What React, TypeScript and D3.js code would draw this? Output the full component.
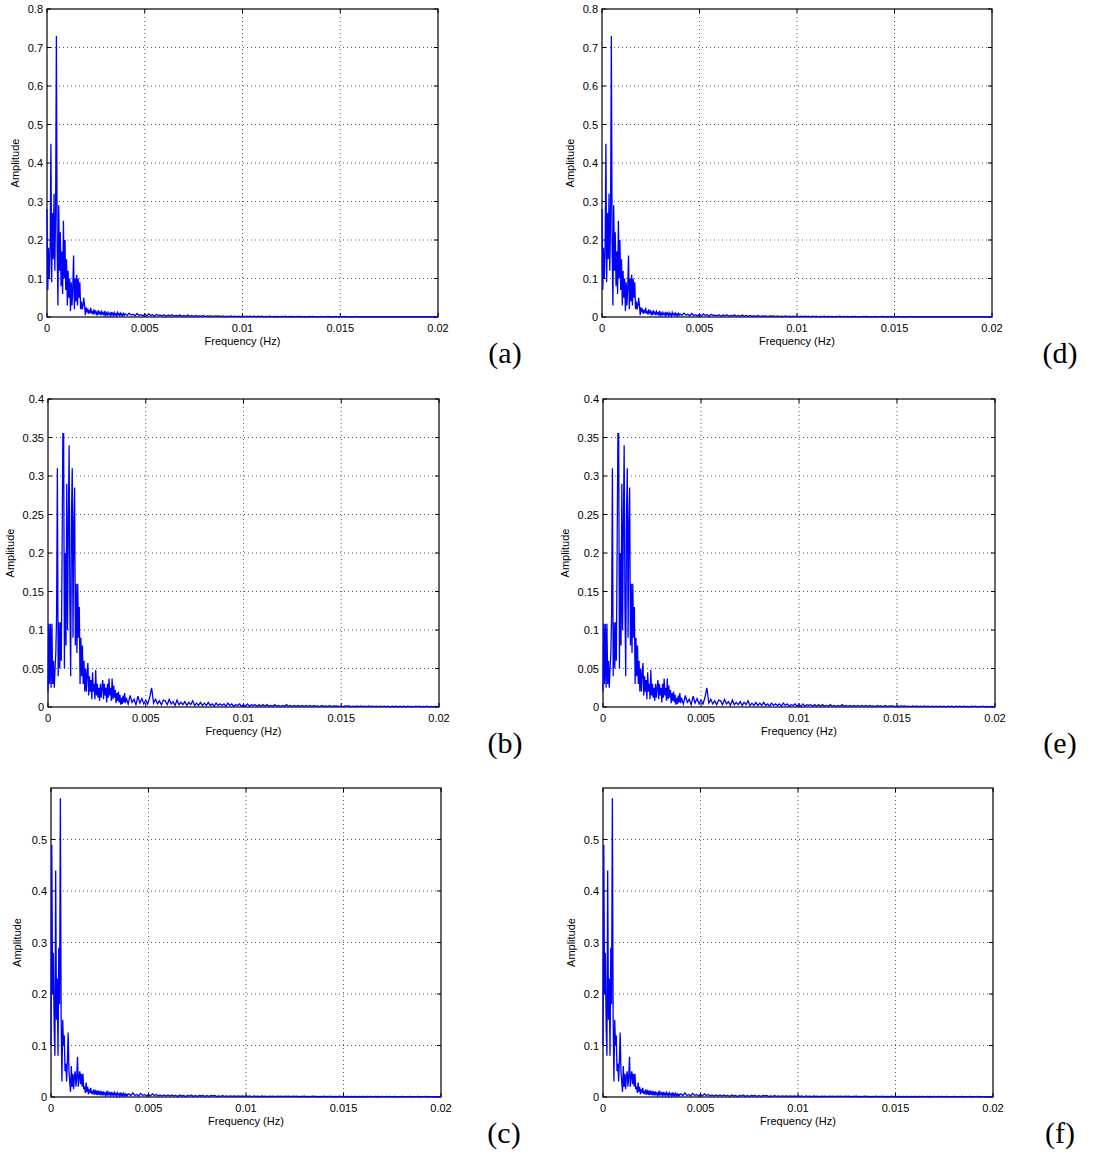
import React from "react";
import * as d3 from "d3";

// ---------- data ----------
const freqTicks = [0, 0.005, 0.01, 0.015, 0.02];
const freqTickLabels = ["0", "0.005", "0.01", "0.015", "0.02"];

const ampTicks08 = [0, 0.1, 0.2, 0.3, 0.4, 0.5, 0.6, 0.7, 0.8];
const ampTickLabels08 = ["0", "0.1", "0.2", "0.3", "0.4", "0.5", "0.6", "0.7", "0.8"];
const ampTicks04 = [0, 0.05, 0.1, 0.15, 0.2, 0.25, 0.3, 0.35, 0.4];
const ampTickLabels04 = ["0", "0.05", "0.1", "0.15", "0.2", "0.25", "0.3", "0.35", "0.4"];
const ampTicks06 = [0, 0.1, 0.2, 0.3, 0.4, 0.5];
const ampTickLabels06 = ["0", "0.1", "0.2", "0.3", "0.4", "0.5"];

// spectrum sampled every 0.00004 Hz from 0 to 0.00396 Hz
const HEAD_STEP = 0.00004;
// then every 0.0001 Hz from 0.004 Hz to 0.02 Hz
const TAIL_START = 0.004;
const TAIL_STEP = 0.0001;

const headA = [
  0.28, 0.07, 0.18, 0.10, 0.17, 0.45, 0.09, 0.27, 0.15, 0.32,
  0.12, 0.27, 0.73, 0.18, 0.03, 0.29, 0.12, 0.22, 0.08, 0.17,
  0.06, 0.25, 0.10, 0.20, 0.07, 0.15, 0.03, 0.12, 0.05, 0.10,
  0.015, 0.09, 0.03, 0.08, 0.16, 0.02, 0.10, 0.04, 0.11, 0.03,
  0.10, 0.05, 0.09, 0.02, 0.04, 0.02, 0.03, 0.05, 0.03, 0.005,
  0.025, 0.012, 0.022, 0.008, 0.018, 0.010, 0.024, 0.009, 0.016, 0.006,
  0.020, 0.011, 0.015, 0.007, 0.013, 0.005, 0.017, 0.009, 0.012, 0.004,
  0.014, 0.008, 0.011, 0.005, 0.016, 0.006, 0.010, 0.004, 0.012, 0.007,
  0.009, 0.003, 0.013, 0.006, 0.010, 0.004, 0.011, 0.005, 0.008, 0.003,
  0.012, 0.006, 0.009, 0.004, 0.010, 0.005, 0.008, 0.003, 0.009, 0.005,
];
const tailA = [
  0.008, 0.004, 0.010, 0.005, 0.007, 0.003, 0.009, 0.004, 0.006, 0.003,
  0.007, 0.003, 0.008, 0.004, 0.006, 0.002, 0.007, 0.004, 0.005, 0.003,
  0.006, 0.002, 0.005, 0.003, 0.006, 0.002, 0.004, 0.003, 0.005, 0.002,
  0.004, 0.002, 0.005, 0.002, 0.004, 0.001, 0.004, 0.002, 0.003, 0.002,
  0.004, 0.001, 0.003, 0.002, 0.003, 0.001, 0.003, 0.002, 0.003, 0.001,
  0.003, 0.001, 0.002, 0.001, 0.003, 0.001, 0.002, 0.001, 0.002, 0.001,
  0.002, 0.001, 0.002, 0.001, 0.002, 0.001, 0.002, 0.0005, 0.002, 0.001,
  0.002, 0.0005, 0.0015, 0.001, 0.002, 0.0005, 0.0015, 0.001, 0.0015, 0.0005,
  0.0015, 0.001, 0.002, 0.0005, 0.0015, 0.001, 0.0015, 0.0005, 0.0015, 0.001,
  0.0015, 0.0005, 0.001, 0.0005, 0.0015, 0.001, 0.0015, 0.0005, 0.001, 0.0005,
  0.0015, 0.0005, 0.001, 0.001, 0.0015, 0.0005, 0.001, 0.0005, 0.0015, 0.0005,
  0.001, 0.0005, 0.0015, 0.0005, 0.001, 0.0005, 0.001, 0.0005, 0.0015, 0.0005,
  0.001, 0.0005, 0.001, 0.0005, 0.001, 0.0003, 0.001, 0.0005, 0.001, 0.0005,
  0.001, 0.0003, 0.001, 0.0005, 0.001, 0.0003, 0.001, 0.0005, 0.0008, 0.0003,
  0.001, 0.0005, 0.0008, 0.0003, 0.001, 0.0005, 0.0008, 0.0003, 0.001, 0.0005,
  0.0008, 0.0003, 0.001, 0.0005, 0.0008, 0.0003, 0.0008, 0.0005, 0.0008, 0.0003,
  0.0008,
];

const headB = [
  0.02, 0.108, 0.03, 0.108, 0.025, 0.108, 0.03, 0.06, 0.025, 0.05,
  0.07, 0.12, 0.31, 0.04, 0.11, 0.05, 0.11, 0.06, 0.20, 0.355,
  0.355, 0.05, 0.20, 0.08, 0.29, 0.10, 0.24, 0.34, 0.13, 0.04,
  0.25, 0.31, 0.09, 0.24, 0.285, 0.08, 0.16, 0.07, 0.16, 0.09,
  0.13, 0.03, 0.09, 0.04, 0.08, 0.03, 0.06, 0.02, 0.05, 0.02,
  0.045, 0.057, 0.015, 0.04, 0.02, 0.035, 0.01, 0.045, 0.02, 0.03,
  0.01, 0.048, 0.015, 0.03, 0.012, 0.025, 0.008, 0.03, 0.012, 0.025,
  0.035, 0.01, 0.03, 0.015, 0.025, 0.006, 0.03, 0.012, 0.037, 0.015,
  0.025, 0.008, 0.037, 0.01, 0.028, 0.012, 0.022, 0.005, 0.018, 0.008,
  0.02, 0.006, 0.016, 0.003, 0.012, 0.004, 0.015, 0.006, 0.018, 0.005,
];
const tailB = [
  0.012, 0.004, 0.015, 0.006, 0.010, 0.003, 0.014, 0.005, 0.011, 0.004,
  0.009, 0.004, 0.012, 0.025, 0.005, 0.010, 0.004, 0.008, 0.003, 0.009,
  0.008, 0.003, 0.010, 0.004, 0.007, 0.002, 0.009, 0.003, 0.006, 0.003,
  0.007, 0.002, 0.006, 0.003, 0.008, 0.002, 0.005, 0.002, 0.006, 0.002,
  0.005, 0.002, 0.006, 0.002, 0.004, 0.001, 0.005, 0.002, 0.004, 0.002,
  0.004, 0.001, 0.005, 0.002, 0.004, 0.001, 0.003, 0.002, 0.004, 0.001,
  0.003, 0.001, 0.004, 0.001, 0.003, 0.002, 0.003, 0.001, 0.003, 0.001,
  0.003, 0.001, 0.003, 0.001, 0.002, 0.001, 0.003, 0.001, 0.002, 0.001,
  0.002, 0.001, 0.003, 0.001, 0.002, 0.0005, 0.002, 0.001, 0.002, 0.001,
  0.002, 0.0005, 0.002, 0.001, 0.002, 0.0005, 0.002, 0.001, 0.0015, 0.0005,
  0.002, 0.001, 0.0015, 0.0005, 0.002, 0.0005, 0.0015, 0.001, 0.0015, 0.0005,
  0.0015, 0.0005, 0.0015, 0.001, 0.0015, 0.0005, 0.001, 0.0005, 0.0015, 0.0005,
  0.0015, 0.0005, 0.001, 0.0005, 0.0015, 0.0005, 0.001, 0.0005, 0.001, 0.0005,
  0.001, 0.0005, 0.001, 0.0005, 0.001, 0.0003, 0.001, 0.0005, 0.001, 0.0003,
  0.001, 0.0005, 0.001, 0.0003, 0.001, 0.0005, 0.0008, 0.0003, 0.001, 0.0005,
  0.001, 0.0003, 0.0008, 0.0005, 0.001, 0.0003, 0.0008, 0.0003, 0.0008, 0.0005,
  0.0008,
];

const headC = [
  0.10, 0.49, 0.20, 0.28, 0.14, 0.08, 0.44, 0.15, 0.23, 0.08,
  0.29, 0.18, 0.58, 0.15, 0.03, 0.15, 0.10, 0.12, 0.05, 0.065,
  0.03, 0.07, 0.125, 0.05, 0.03, 0.01, 0.06, 0.02, 0.045, 0.015,
  0.04, 0.05, 0.02, 0.04, 0.078, 0.02, 0.04, 0.05, 0.025, 0.045,
  0.02, 0.045, 0.015, 0.02, 0.008, 0.028, 0.01, 0.02, 0.005, 0.015,
  0.008, 0.018, 0.006, 0.012, 0.005, 0.015, 0.007, 0.011, 0.004, 0.013,
  0.006, 0.010, 0.004, 0.012, 0.005, 0.009, 0.003, 0.011, 0.005, 0.008,
  0.003, 0.009, 0.004, 0.010, 0.005, 0.008, 0.003, 0.010, 0.004, 0.007,
  0.003, 0.009, 0.004, 0.007, 0.002, 0.008, 0.004, 0.006, 0.002, 0.009,
  0.003, 0.006, 0.002, 0.007, 0.003, 0.006, 0.002, 0.005, 0.003, 0.006,
];
const tailC = [
  0.006, 0.003, 0.008, 0.003, 0.005, 0.002, 0.007, 0.003, 0.005, 0.002,
  0.005, 0.002, 0.006, 0.003, 0.005, 0.002, 0.004, 0.002, 0.004, 0.002,
  0.004, 0.002, 0.004, 0.002, 0.003, 0.001, 0.004, 0.002, 0.003, 0.001,
  0.003, 0.002, 0.004, 0.001, 0.003, 0.001, 0.003, 0.002, 0.003, 0.001,
  0.003, 0.001, 0.003, 0.002, 0.003, 0.001, 0.002, 0.001, 0.003, 0.001,
  0.002, 0.001, 0.002, 0.001, 0.002, 0.001, 0.002, 0.001, 0.002, 0.001,
  0.002, 0.001, 0.002, 0.0005, 0.002, 0.001, 0.0015, 0.0005, 0.002, 0.001,
  0.0015, 0.0005, 0.0015, 0.001, 0.0015, 0.0005, 0.0015, 0.001, 0.0015, 0.0005,
  0.0015, 0.001, 0.0015, 0.0005, 0.0015, 0.001, 0.0015, 0.0005, 0.001, 0.001,
  0.0015, 0.0005, 0.001, 0.0005, 0.0015, 0.001, 0.001, 0.0005, 0.001, 0.0005,
  0.0015, 0.0005, 0.001, 0.001, 0.001, 0.0005, 0.001, 0.0005, 0.0015, 0.0005,
  0.001, 0.0005, 0.001, 0.0005, 0.001, 0.0005, 0.001, 0.0005, 0.001, 0.0005,
  0.001, 0.0005, 0.001, 0.0005, 0.001, 0.0003, 0.001, 0.0005, 0.001, 0.0005,
  0.001, 0.0003, 0.001, 0.0005, 0.001, 0.0003, 0.001, 0.0005, 0.0008, 0.0003,
  0.001, 0.0005, 0.0008, 0.0003, 0.001, 0.0005, 0.0008, 0.0003, 0.001, 0.0005,
  0.0008, 0.0003, 0.001, 0.0005, 0.0008, 0.0003, 0.0008, 0.0005, 0.0008, 0.0003,
  0.0008,
];

const xLabel = "Frequency (Hz)";
const yLabel = "Amplitude";
const panelLabels = ["(a)", "(b)", "(c)", "(d)", "(e)", "(f)"];

// ---------- helpers ----------
type Pt = { f: number; a: number };
function buildSeries(head: number[], tail: number[]): Pt[] {
  const pts: Pt[] = head.map((a, i) => ({ f: i * HEAD_STEP, a }));
  tail.forEach((a, j) => pts.push({ f: TAIL_START + j * TAIL_STEP, a }));
  return pts;
}

const FONT = "'Liberation Sans', Arial, Helvetica, sans-serif";

type PanelProps = {
  x0: number; x1: number; y0: number; y1: number;
  yMax: number; yTicks: number[]; yTickLabels: string[];
  series: Pt[]; label: string; labelX: number; labelY: number; ampX: number;
};

function Panel(p: PanelProps) {
  const x = d3.scaleLinear().domain([0, 0.02]).range([p.x0, p.x1]);
  const y = d3.scaleLinear().domain([0, p.yMax]).range([p.y1, p.y0]);
  const line = d3.line<Pt>().x((d) => x(d.f)).y((d) => y(d.a));
  const tl = 4;
  const midY = (p.y0 + p.y1) / 2;
  const midX = (p.x0 + p.x1) / 2;
  return (
    <g>
      {/* grid */}
      {freqTicks.slice(1, -1).map((t) => (
        <line key={"gx" + t} x1={x(t)} x2={x(t)} y1={p.y0} y2={p.y1}
          stroke="#333" strokeWidth={0.8} strokeDasharray="1,3" />
      ))}
      {p.yTicks.filter((t) => t > 0 && t < p.yMax - 1e-9).map((t) => (
        <line key={"gy" + t} x1={p.x0} x2={p.x1} y1={y(t)} y2={y(t)}
          stroke="#333" strokeWidth={0.8} strokeDasharray="1,3" />
      ))}
      {/* ticks */}
      {freqTicks.map((t) => (
        <g key={"tx" + t}>
          <line x1={x(t)} x2={x(t)} y1={p.y1} y2={p.y1 - tl} stroke="#000" />
          <line x1={x(t)} x2={x(t)} y1={p.y0} y2={p.y0 + tl} stroke="#000" />
        </g>
      ))}
      {p.yTicks.map((t) => (
        <g key={"ty" + t}>
          <line x1={p.x0} x2={p.x0 + tl} y1={y(t)} y2={y(t)} stroke="#000" />
          <line x1={p.x1} x2={p.x1 - tl} y1={y(t)} y2={y(t)} stroke="#000" />
        </g>
      ))}
      <rect x={p.x0} y={p.y0} width={p.x1 - p.x0} height={p.y1 - p.y0}
        fill="none" stroke="#000" strokeWidth={1.2} />
      {/* data */}
      <path d={line(p.series) || ""} fill="none" stroke="#0000ff" strokeWidth={1.3} />
      {/* tick labels */}
      {freqTicks.map((t, i) => (
        <text key={"lx" + t} x={x(t)} y={p.y1 + 15} textAnchor="middle"
          fontFamily={FONT} fontSize={11} fill="#000">{freqTickLabels[i]}</text>
      ))}
      {p.yTicks.map((t, i) => (
        <text key={"ly" + t} x={p.x0 - 4} y={y(t) + 4} textAnchor="end"
          fontFamily={FONT} fontSize={11} fill="#000">{p.yTickLabels[i]}</text>
      ))}
      <text x={midX} y={p.y1 + 28} textAnchor="middle" fontFamily={FONT} fontSize={11} fill="#000">{xLabel}</text>
      <text transform={`translate(${p.ampX},${midY}) rotate(-90)`} textAnchor="middle"
        fontFamily={FONT} fontSize={11} fill="#000">{yLabel}</text>
      <text x={p.labelX} y={p.labelY} textAnchor="middle"
        fontFamily="'Liberation Serif', 'Times New Roman', serif" fontSize={30} fill="#000">{p.label}</text>
    </g>
  );
}

export default function App() {
  const sA = buildSeries(headA, tailA);
  const sB = buildSeries(headB, tailB);
  const sC = buildSeries(headC, tailC);
  return (
    <svg width={1093} height={1156} style={{ position: "absolute", left: 0, top: 0, background: "#fff" }}>
      <rect x={0} y={0} width={1093} height={1156} fill="#fff" />
      <Panel x0={47} x1={438} y0={9} y1={317} yMax={0.8} yTicks={ampTicks08} yTickLabels={ampTickLabels08}
        series={sA} label={panelLabels[0]} labelX={505} labelY={363} ampX={19} />
      <Panel x0={602} x1={992} y0={9} y1={317} yMax={0.8} yTicks={ampTicks08} yTickLabels={ampTickLabels08}
        series={sA} label={panelLabels[3]} labelX={1060} labelY={363} ampX={574} />
      <Panel x0={48} x1={439} y0={399} y1={707} yMax={0.4} yTicks={ampTicks04} yTickLabels={ampTickLabels04}
        series={sB} label={panelLabels[1]} labelX={505} labelY={753} ampX={14} />
      <Panel x0={603} x1={995} y0={399} y1={707} yMax={0.4} yTicks={ampTicks04} yTickLabels={ampTickLabels04}
        series={sB} label={panelLabels[4]} labelX={1060} labelY={753} ampX={569} />
      <Panel x0={51} x1={441} y0={788} y1={1097} yMax={0.6} yTicks={ampTicks06} yTickLabels={ampTickLabels06}
        series={sC} label={panelLabels[2]} labelX={504} labelY={1143} ampX={21} />
      <Panel x0={603} x1={993} y0={788} y1={1097} yMax={0.6} yTicks={ampTicks06} yTickLabels={ampTickLabels06}
        series={sC} label={panelLabels[5]} labelX={1060} labelY={1143} ampX={575} />
    </svg>
  );
}
